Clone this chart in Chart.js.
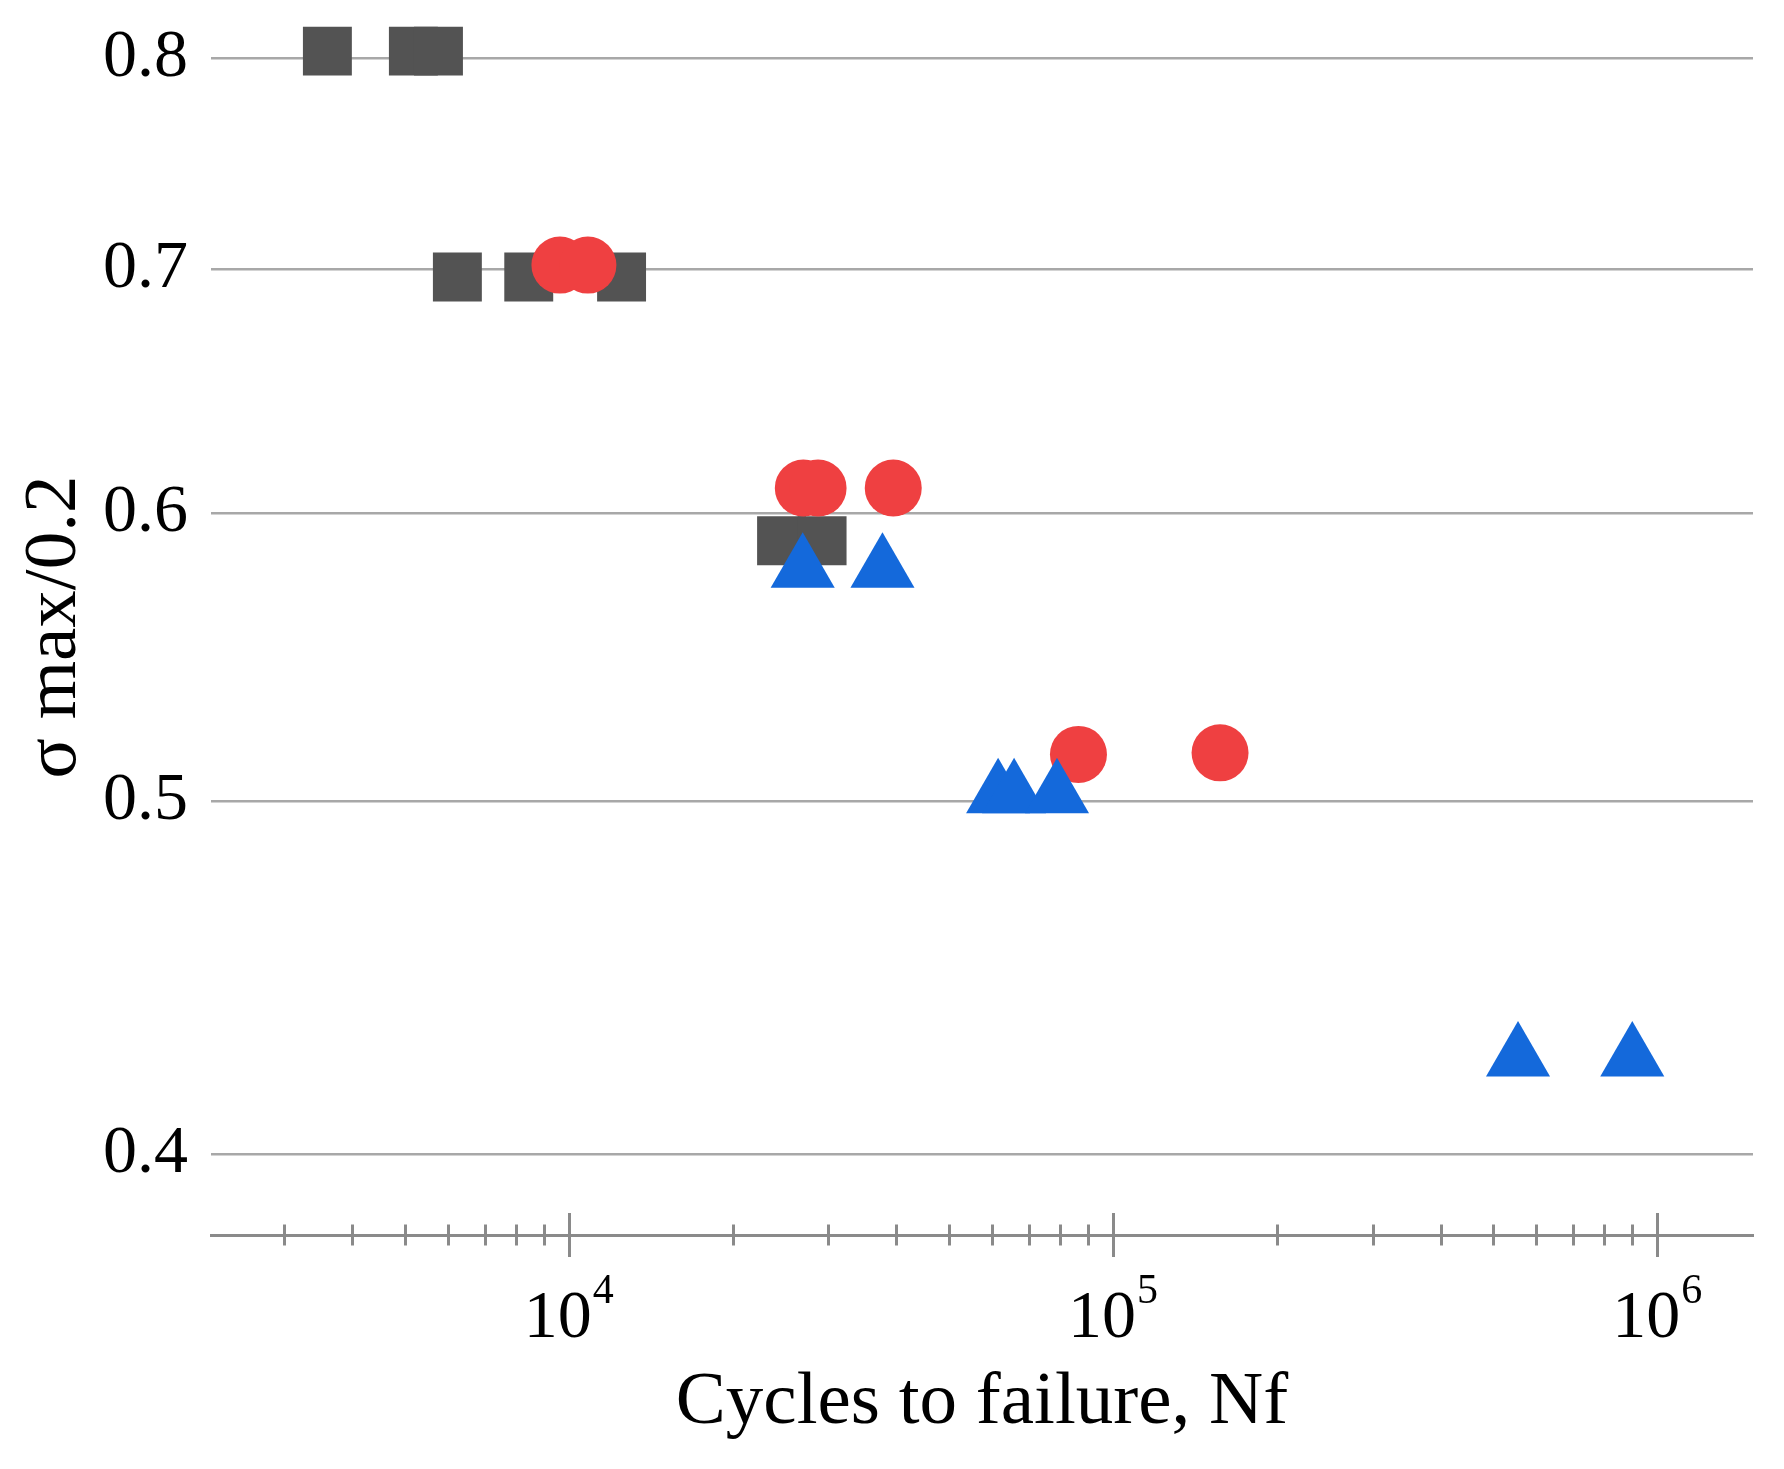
<!DOCTYPE html>
<html>
<head>
<meta charset="utf-8">
<title>Cycles to failure</title>
<script src="https://cdn.jsdelivr.net/npm/chart.js@4.4.1/dist/chart.umd.min.js"></script>
<style>
  html, body { margin: 0; padding: 0; background: #fff; overflow: hidden; }
  #wrap { width: 1784px; height: 1469px; position: relative; overflow: hidden; }
</style>
</head>
<body>
<div id="wrap"><canvas id="snChart"></canvas></div>
<script>
// values
var squareN = [3600, 5180, 5760, 6240, 8440, 12500, 24600, 29200];
var squareS = [0.8035, 0.8035, 0.8035, 0.6965, 0.6965, 0.6965, 0.5895, 0.5895];

var circleN = [9630, 10840, 26970, 28710, 39460, 86400, 157300];
var circleS = [0.7018, 0.7018, 0.6095, 0.6095, 0.6095, 0.515, 0.5155];

var triN = [26900, 37700, 61500, 65800, 78900, 555000, 900000];
var triS = [0.579, 0.579, 0.502, 0.502, 0.502, 0.425, 0.425];

// tick values
var xTicks = [3000, 4000, 5000, 6000, 7000, 8000, 9000, 10000,
              20000, 30000, 40000, 50000, 60000, 70000, 80000, 90000, 100000,
              200000, 300000, 400000, 500000, 600000, 700000, 800000, 900000, 1000000];
var xLabelled = [10000, 100000, 1000000];
var yTicks = [0.4, 0.5, 0.6, 0.7, 0.8];

var serif = "'Liberation Serif', 'DejaVu Serif', serif";

function toPoints(xs, ys) {
  return xs.map(function (x, i) { return { x: x, y: ys[i] }; });
}

// tick marks crossing the x axis line, plus the 10^n labels with a raised exponent
var logAxisDecor = {
  id: 'logAxisDecor',
  afterDraw: function (chart) {
    var xs = chart.scales.x, ctx = chart.ctx, y0 = chart.chartArea.bottom;
    ctx.save();
    ctx.strokeStyle = '#8a8a8a';
    ctx.lineWidth = 3;
    xTicks.forEach(function (v) {
      var px = Math.round(xs.getPixelForValue(v)) + 0.5;
      var h = xLabelled.indexOf(v) >= 0 ? 22 : 10.5;
      ctx.beginPath();
      ctx.moveTo(px, y0 - h);
      ctx.lineTo(px, y0 + h);
      ctx.stroke();
    });

    ctx.fillStyle = '#000';
    ctx.textBaseline = 'alphabetic';
    ctx.textAlign = 'left';
    xLabelled.forEach(function (v) {
      var base = '10', exp = String(Math.round(Math.log10(v)));
      ctx.font = '68px ' + serif;
      var wBase = ctx.measureText(base).width;
      ctx.font = '42px ' + serif;
      var wExp = ctx.measureText(exp).width;
      var left = xs.getPixelForValue(v) - (wBase + wExp + 1) / 2;
      ctx.font = '68px ' + serif;
      ctx.fillText(base, left, y0 + 102);
      ctx.font = '42px ' + serif;
      ctx.fillText(exp, left + wBase + 1, y0 + 68);
    });
    ctx.restore();
  }
};

Chart.defaults.color = '#000';
Chart.defaults.font.family = serif;

var ctx = document.getElementById('snChart').getContext('2d');
var snChart = new Chart(ctx, {
  type: 'scatter',
  data: {
    datasets: [{
      label: 'triangles',
      data: toPoints(triN, triS),
      pointStyle: 'triangle',
      pointRadius: 37,
      backgroundColor: '#1469db',
      borderWidth: 0,
      order: 0,
      clip: false
    }, {
      label: 'circles',
      data: toPoints(circleN, circleS),
      pointStyle: 'circle',
      pointRadius: 28.5,
      backgroundColor: '#ef4041',
      borderWidth: 0,
      order: 1,
      clip: false
    }, {
      label: 'squares',
      data: toPoints(squareN, squareS),
      pointStyle: 'rect',
      pointRadius: 34.6,
      backgroundColor: '#535353',
      borderWidth: 0,
      order: 2,
      clip: false
    }]
  },
  options: {
    responsive: true,
    maintainAspectRatio: false,
    animation: false,
    events: [],
    layout: { autoPadding: false, padding: { left: 0, right: 31, top: 19, bottom: 0 } },
    plugins: {
      legend: { display: false },
      tooltip: { enabled: false }
    },
    scales: {
      x: {
        type: 'logarithmic',
        min: 2200,
        max: 1500000,
        afterBuildTicks: function (scale) {
          scale.ticks = xTicks.map(function (v) { return { value: v }; });
        },
        afterFit: function (scale) {
          scale.height = 234;
          scale.paddingLeft = 0;
          scale.paddingRight = 0;
        },
        grid: { display: false, drawTicks: false },
        border: { display: true, color: '#8a8a8a', width: 3 },
        ticks: { display: false, autoSkip: false, maxRotation: 0 },
        title: {
          display: true,
          text: 'Cycles to failure, Nf',
          font: { size: 75, family: serif },
          padding: { top: 0, bottom: 21 }
        }
      },
      y: {
        type: 'logarithmic',
        min: 0.38,
        max: 0.82,
        afterBuildTicks: function (scale) {
          scale.ticks = yTicks.map(function (v) { return { value: v }; });
        },
        afterFit: function (scale) {
          scale.width = 211;
          scale.paddingTop = 0;
          scale.paddingBottom = 0;
        },
        grid: { color: '#a8a8a8', lineWidth: 2.5, drawTicks: false },
        border: { display: false },
        ticks: {
          padding: 23,
          font: { size: 68, family: serif },
          callback: function (value) { return value.toFixed(1); }
        },
        title: {
          display: true,
          text: '\u03c3 max/0.2',
          font: { size: 75, family: serif },
          padding: { top: 10, bottom: 0 }
        }
      }
    }
  },
  plugins: [logAxisDecor]
});
</script>
</body>
</html>
